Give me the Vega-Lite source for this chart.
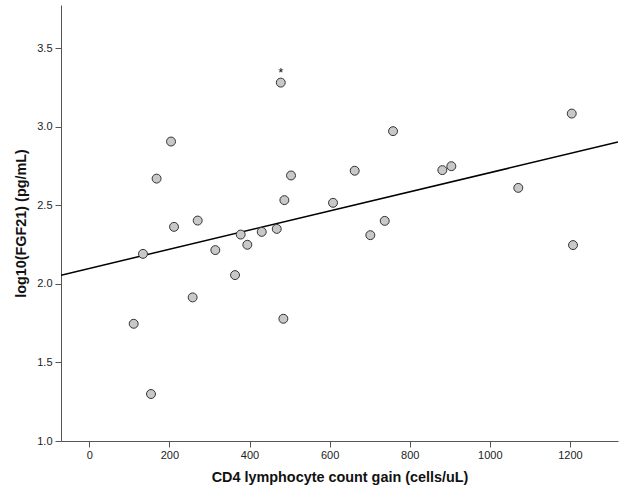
{
  "$schema": "https://vega.github.io/schema/vega-lite/v6.json",
  "autosize": "none",
  "width": 557,
  "height": 436,
  "padding": {"left": 61, "top": 5, "right": 8, "bottom": 60},
  "background": "white",
  "config": {
    "view": {"stroke": null},
    "font": "Liberation Sans",
    "axis": {
      "grid": false,
      "domainColor": "#555555",
      "tickColor": "#555555",
      "labelColor": "#222222",
      "labelFont": "Liberation Sans",
      "labelFontSize": 11,
      "titleFont": "Liberation Sans",
      "titleFontSize": 14.4,
      "titleFontWeight": "bold",
      "titleColor": "#111111",
      "tickSize": 6,
      "labelPadding": 3
    }
  },
  "data": {
    "values": [
      {"cd4": 478, "fgf": 3.281, "mark": "*"},
      {"cd4": 204, "fgf": 2.906},
      {"cd4": 168, "fgf": 2.670},
      {"cd4": 503.6, "fgf": 2.690},
      {"cd4": 487, "fgf": 2.533},
      {"cd4": 211.5, "fgf": 2.363},
      {"cd4": 270.6, "fgf": 2.403},
      {"cd4": 378, "fgf": 2.314},
      {"cd4": 430.5, "fgf": 2.331},
      {"cd4": 468, "fgf": 2.350},
      {"cd4": 394.5, "fgf": 2.249},
      {"cd4": 314.6, "fgf": 2.215},
      {"cd4": 134, "fgf": 2.191},
      {"cd4": 363.8, "fgf": 2.056},
      {"cd4": 258, "fgf": 1.914},
      {"cd4": 110.8, "fgf": 1.746},
      {"cd4": 484.5, "fgf": 1.778},
      {"cd4": 154, "fgf": 1.299},
      {"cd4": 1204.5, "fgf": 3.084},
      {"cd4": 758.3, "fgf": 2.972},
      {"cd4": 662.6, "fgf": 2.720},
      {"cd4": 881.4, "fgf": 2.724},
      {"cd4": 903.9, "fgf": 2.749},
      {"cd4": 608.5, "fgf": 2.516},
      {"cd4": 1071, "fgf": 2.611},
      {"cd4": 737.6, "fgf": 2.401},
      {"cd4": 701.6, "fgf": 2.310},
      {"cd4": 1207.7, "fgf": 2.247}
    ]
  },
  "layer": [
    {
      "transform": [{"regression": "fgf", "on": "cd4", "extent": [-70.7, 1320]}],
      "mark": {"type": "line", "color": "#000000", "strokeWidth": 1.5, "clip": true},
      "encoding": {
        "x": {"field": "cd4", "type": "quantitative"},
        "y": {"field": "fgf", "type": "quantitative"}
      }
    },
    {
      "mark": {"type": "point", "shape": "circle", "filled": true, "fill": "#c8c8c8", "stroke": "#333333", "strokeWidth": 1, "size": 80, "opacity": 1},
      "encoding": {
        "x": {
          "field": "cd4", "type": "quantitative",
          "scale": {"domain": [-70.7, 1320], "nice": false, "zero": false},
          "axis": {"values": [0, 200, 400, 600, 800, 1000, 1200], "format": "d", "title": "CD4 lymphocyte count gain (cells/uL)", "titlePadding": 10, "labelPadding": 2}
        },
        "y": {
          "field": "fgf", "type": "quantitative",
          "scale": {"domain": [1.0, 3.775], "nice": false, "zero": false},
          "axis": {"values": [1.0, 1.5, 2.0, 2.5, 3.0, 3.5], "format": ".1f", "title": "log10(FGF21) (pg/mL)", "titlePadding": 8}
        }
      }
    },
    {
      "transform": [{"filter": "datum.mark != null"}],
      "mark": {"type": "text", "dy": -10, "fontSize": 13, "font": "Liberation Sans", "color": "#111111"},
      "encoding": {
        "x": {"field": "cd4", "type": "quantitative"},
        "y": {"field": "fgf", "type": "quantitative"},
        "text": {"field": "mark"}
      }
    }
  ]
}
